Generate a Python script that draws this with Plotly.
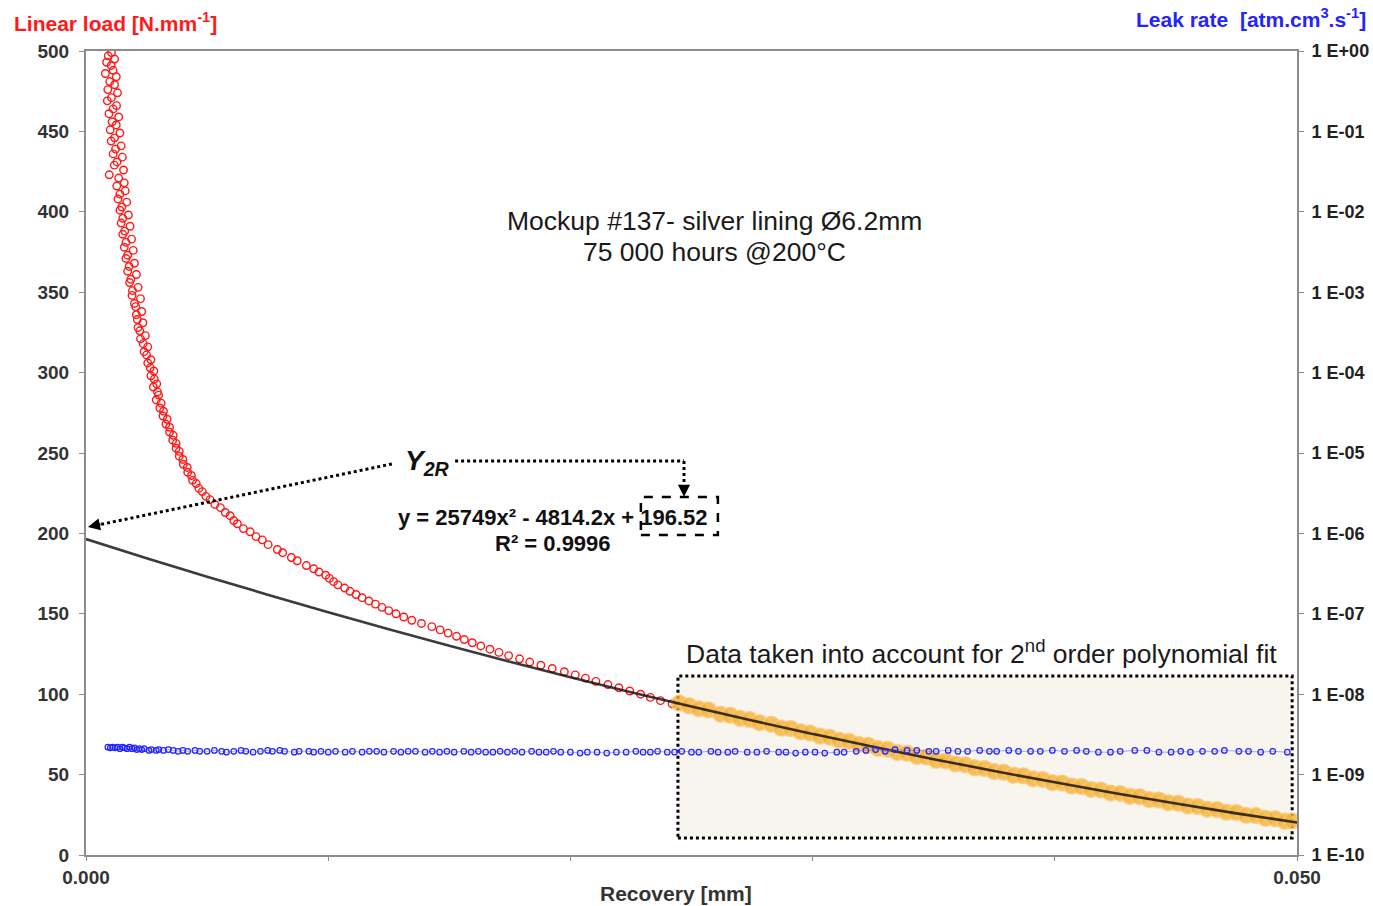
import plotly.graph_objects as go

# red series: linear load vs recovery
load_recovery = [
    0.00105, 0.00092, 0.00118, 0.00085, 0.00104, 0.00112, 0.00080, 0.00125, 0.00098, 0.00118,
    0.00090, 0.00130, 0.00105, 0.00088, 0.00126, 0.00112, 0.00095, 0.00135, 0.00108, 0.00125,
    0.00100, 0.00140, 0.00118, 0.00104, 0.00145, 0.00122, 0.00112, 0.00150, 0.00128, 0.00117,
    0.00155, 0.00096, 0.00135, 0.00158, 0.00127, 0.00162, 0.00140, 0.00132, 0.00168, 0.00148,
    0.00140, 0.00175, 0.00152, 0.00145, 0.00182, 0.00160, 0.00152, 0.00188, 0.00165, 0.00158,
    0.00195, 0.00172, 0.00165, 0.00200, 0.00178, 0.00172, 0.00208, 0.00185, 0.00180, 0.00215,
    0.00192, 0.00190, 0.00225, 0.00200, 0.00205, 0.00230, 0.00208, 0.00212, 0.00235, 0.00215,
    0.00222, 0.00245, 0.00225, 0.00236, 0.00255, 0.00240, 0.00250, 0.00268, 0.00255, 0.00265,
    0.00280, 0.00268, 0.00282, 0.00292, 0.00278, 0.00295, 0.00300, 0.00290, 0.00310, 0.00305,
    0.00320, 0.00318, 0.00335, 0.00330, 0.00345, 0.00345, 0.00360, 0.00358, 0.00372, 0.00372,
    0.00385, 0.00385, 0.00400, 0.00402, 0.00418, 0.00420, 0.00435, 0.00440, 0.00455, 0.00466,
    0.00480, 0.00495, 0.00512, 0.00532, 0.00555, 0.00575, 0.00595, 0.00610, 0.00625, 0.00650,
    0.00678, 0.00702, 0.00728, 0.00752, 0.00790, 0.00812, 0.00848, 0.00872, 0.00910, 0.00940,
    0.00962, 0.00990, 0.01005, 0.01022, 0.01040, 0.01068, 0.01090, 0.01115, 0.01140, 0.01168,
    0.01195, 0.01222, 0.01250, 0.01280, 0.01312, 0.01345, 0.01385, 0.01428, 0.01462, 0.01495,
    0.01530, 0.01562, 0.01595, 0.01630, 0.01668, 0.01705, 0.01745, 0.01790, 0.01832, 0.01878,
    0.01925, 0.01975, 0.02020, 0.02062, 0.02105, 0.02155, 0.02200, 0.02245, 0.02290, 0.02330,
    0.02372, 0.02420,
]
load_values = [
    499, 497, 495, 493, 491, 488, 486, 484, 481, 479,
    476, 474, 471, 469, 466, 464, 461, 459, 456, 454,
    451, 449, 446, 444, 441, 439, 436, 434, 431, 429,
    426, 423, 421, 418, 416, 413, 411, 408, 406, 403,
    401, 398, 396, 393, 391, 388, 386, 383, 381, 378,
    376, 373, 371, 368, 366, 363, 361, 358, 356, 353,
    351, 348, 346, 343, 341, 338, 336, 333, 331, 328,
    326, 323, 321, 318, 316, 313, 311, 308, 306, 303,
    301, 298, 296, 293, 291, 288, 286, 283, 281, 278,
    276, 273, 271, 268, 266, 263, 261, 258, 256, 253,
    251, 248, 246, 243, 241, 238, 236, 233, 231, 228,
    226, 223, 221, 218, 216, 213, 211, 208, 206, 203,
    201, 198, 196, 193, 190, 188, 185, 183, 180, 178,
    176, 174, 172, 170, 168, 166, 164, 162, 160, 158,
    156, 154, 152, 150, 148, 146, 144, 142, 140, 138,
    136, 134, 132, 130, 128, 126, 124, 122, 120, 118,
    116, 114, 112, 110, 108, 106, 104, 102, 100, 98,
    96, 94,
]

# orange series: points used for the 2nd order fit
fit_recovery = [
    0.0245, 0.0249, 0.0253, 0.0257, 0.0262, 0.0266, 0.0270, 0.0274, 0.0278, 0.0283,
    0.0287, 0.0291, 0.0295, 0.0299, 0.0303, 0.0307, 0.0311, 0.0315, 0.0319, 0.0323,
    0.0327, 0.0331, 0.0335, 0.0339, 0.0343, 0.0347, 0.0351, 0.0355, 0.0359, 0.0363,
    0.0367, 0.0371, 0.0375, 0.0379, 0.0383, 0.0387, 0.0391, 0.0395, 0.0399, 0.0403,
    0.0407, 0.0411, 0.0415, 0.0419, 0.0423, 0.0427, 0.0431, 0.0435, 0.0439, 0.0443,
    0.0447, 0.0451, 0.0455, 0.0459, 0.0463, 0.0467, 0.0471, 0.0475, 0.0479, 0.0483,
    0.0487, 0.0491, 0.0495, 0.0498,
]
fit_load = [
    94.5, 92.8, 91.0, 90.2, 87.6, 86.9, 85.0, 84.2, 82.3, 81.3,
    79.0, 78.6, 76.6, 75.8, 74.0, 73.3, 71.4, 70.8, 68.8, 68.2,
    66.3, 65.8, 63.8, 63.3, 61.3, 60.9, 58.9, 58.5, 56.6, 56.1,
    54.2, 53.8, 51.9, 51.4, 49.6, 49.3, 47.4, 47.0, 45.1, 44.8,
    42.9, 42.6, 40.8, 40.5, 38.6, 38.3, 36.5, 36.3, 34.5, 34.2,
    32.5, 32.2, 30.5, 30.2, 28.5, 28.3, 26.6, 26.4, 24.7, 24.5,
    22.8, 22.6, 21.0, 21.2,
]

# black trendline
trend_recovery = [0.0, 0.0025, 0.005, 0.0075, 0.01, 0.0125, 0.015, 0.0175, 0.02, 0.0225, 0.025,
                  0.0275, 0.03, 0.0325, 0.035, 0.0375, 0.04, 0.0425, 0.045, 0.0475, 0.05]
trend_load = [196.5, 184.6, 173.1, 161.9, 151.0, 140.4, 130.1, 120.2, 110.5, 101.2, 92.3,
              83.6, 75.3, 67.3, 59.6, 52.2, 45.2, 38.4, 32.0, 25.9, 20.2]

# blue series: leak rate (right, log axis)
leak_recovery = [
    0.0009, 0.0010, 0.0011, 0.0012, 0.0013, 0.0014, 0.0015, 0.0016, 0.0017, 0.0018,
    0.0019, 0.0020, 0.0021, 0.0022, 0.0023, 0.0024, 0.0026, 0.0027, 0.0029, 0.0030,
    0.0032, 0.0034, 0.0036, 0.0038, 0.0040, 0.0042, 0.0045, 0.0047, 0.0050, 0.0053,
    0.0056, 0.0058, 0.0061, 0.0064, 0.0066, 0.0069, 0.0072, 0.0075, 0.0077, 0.0080,
    0.0082, 0.0086, 0.0088, 0.0092, 0.0094, 0.0097, 0.0100, 0.0103, 0.0107, 0.0110,
    0.0114, 0.0117, 0.0120, 0.0123, 0.0127, 0.0130, 0.0133, 0.0136, 0.0140, 0.0143,
    0.0146, 0.0149, 0.0152, 0.0156, 0.0159, 0.0162, 0.0165, 0.0168, 0.0171, 0.0174,
    0.0177, 0.0180, 0.0184, 0.0187, 0.0190, 0.0193, 0.0196, 0.0200, 0.0204, 0.0207,
    0.0211, 0.0215, 0.0219, 0.0223, 0.0227, 0.0230, 0.0233, 0.0236, 0.0240, 0.0243,
    0.0246, 0.0250, 0.0253, 0.0258, 0.0261, 0.0265, 0.0268, 0.0273, 0.0277, 0.0281,
    0.0286, 0.0289, 0.0293, 0.0297, 0.0301, 0.0305, 0.0310, 0.0313, 0.0318, 0.0322,
    0.0326, 0.0330, 0.0334, 0.0339, 0.0343, 0.0348, 0.0351, 0.0356, 0.0360, 0.0364,
    0.0369, 0.0373, 0.0376, 0.0381, 0.0385, 0.0390, 0.0394, 0.0399, 0.0404, 0.0409,
    0.0413, 0.0418, 0.0423, 0.0427, 0.0433, 0.0438, 0.0443, 0.0448, 0.0452, 0.0456,
    0.0461, 0.0466, 0.0470, 0.0476, 0.0480, 0.0485, 0.0490, 0.0496,
]
leak_rate = [
    2.2e-9, 2.15e-9, 2.2e-9, 2.15e-9, 2.2e-9, 2.1e-9, 2.2e-9, 2.15e-9, 2.1e-9, 2.2e-9,
    2.1e-9, 2.15e-9, 2.05e-9, 2.1e-9, 2.05e-9, 2.1e-9, 2.0e-9, 2.05e-9, 2.0e-9, 2.05e-9,
    2.0e-9, 2.05e-9, 2.0e-9, 1.95e-9, 2.0e-9, 1.95e-9, 2.0e-9, 1.95e-9, 1.95e-9, 2.0e-9,
    1.95e-9, 1.9e-9, 1.95e-9, 2.0e-9, 1.95e-9, 1.9e-9, 1.95e-9, 2.0e-9, 1.95e-9, 2.0e-9,
    1.95e-9, 1.9e-9, 1.95e-9, 1.95e-9, 1.9e-9, 1.95e-9, 1.9e-9, 1.95e-9, 1.9e-9, 1.95e-9,
    1.9e-9, 1.95e-9, 1.95e-9, 1.9e-9, 1.95e-9, 1.9e-9, 1.95e-9, 1.95e-9, 1.9e-9, 1.95e-9,
    1.9e-9, 1.95e-9, 1.9e-9, 1.95e-9, 1.9e-9, 1.95e-9, 1.9e-9, 1.9e-9, 1.95e-9, 1.9e-9,
    1.95e-9, 1.9e-9, 1.95e-9, 1.9e-9, 1.9e-9, 1.95e-9, 1.9e-9, 1.9e-9, 1.85e-9, 1.9e-9,
    1.9e-9, 1.85e-9, 1.9e-9, 1.9e-9, 1.95e-9, 1.9e-9, 1.9e-9, 1.95e-9, 1.9e-9, 1.9e-9,
    1.95e-9, 1.9e-9, 1.9e-9, 1.95e-9, 1.9e-9, 1.9e-9, 1.95e-9, 1.9e-9, 1.9e-9, 1.95e-9,
    1.9e-9, 1.9e-9, 1.85e-9, 1.9e-9, 1.9e-9, 1.85e-9, 1.9e-9, 1.9e-9, 1.95e-9, 2.0e-9,
    2.05e-9, 1.95e-9, 2.05e-9, 2.0e-9, 2.0e-9, 1.95e-9, 1.95e-9, 2.0e-9, 1.95e-9, 1.95e-9,
    2.0e-9, 1.95e-9, 1.95e-9, 2.0e-9, 1.95e-9, 1.95e-9, 1.95e-9, 2.0e-9, 1.95e-9, 2.0e-9,
    1.95e-9, 1.9e-9, 1.9e-9, 1.95e-9, 2.0e-9, 2.0e-9, 1.9e-9, 1.9e-9, 1.95e-9, 1.9e-9,
    1.95e-9, 1.95e-9, 2.0e-9, 1.95e-9, 1.95e-9, 1.9e-9, 1.95e-9, 1.9e-9,
]

load_ticks = [0, 50, 100, 150, 200, 250, 300, 350, 400, 450, 500]
leak_ticks = [1e-10, 1e-9, 1e-8, 1e-7, 1e-6, 1e-5, 1e-4, 1e-3, 1e-2, 1e-1, 1e0]
leak_tick_text = ["1 E-10", "1 E-09", "1 E-08", "1 E-07", "1 E-06", "1 E-05",
                  "1 E-04", "1 E-03", "1 E-02", "1 E-01", "1 E+00"]
recovery_ticks = [0.0, 0.01, 0.02, 0.03, 0.04, 0.05]
recovery_tick_text = ["0.000", "", "", "", "", "0.050"]

FONT = "Liberation Sans, Arial, sans-serif"
AXIS_GRAY = "#8c8c8c"


def bold(labels):
    return ["<b>" + str(t) + "</b>" if t != "" else "" for t in labels]


fig = go.Figure()

fig.add_trace(go.Scatter(
    x=load_recovery, y=load_values, mode="markers",
    marker=dict(symbol="circle-open", size=7.5, color="#ff1a1a", line=dict(width=1.4)),
))
fig.add_trace(go.Scatter(
    x=fit_recovery, y=fit_load, mode="markers",
    marker=dict(size=16, color="rgba(245,178,55,0.8)",
                line=dict(width=1.5, color="rgba(250,205,130,0.7)")),
))
fig.add_trace(go.Scatter(
    x=trend_recovery, y=trend_load, mode="lines",
    line=dict(color="rgba(10,10,10,0.8)", width=2.6, shape="spline"),
))
fig.add_trace(go.Scatter(
    x=leak_recovery, y=leak_rate, mode="lines+markers", yaxis="y2",
    line=dict(color="rgba(110,110,255,0.6)", width=1),
    marker=dict(symbol="circle-open", size=5.5, color="#2424ff", line=dict(width=1.2)),
))

# box for the data taken into account in the fit
fig.add_shape(type="rect", x0=0.02444, x1=0.0498, y0=10.6, y1=111.3,
              line=dict(color="black", width=3, dash="dot"),
              fillcolor="#f7f5ee", layer="below")
# dashed frame around the constant term
fig.add_shape(type="rect", x0=0.02291, x1=0.02609, y0=199.0, y1=222.6,
              line=dict(color="black", width=2.5, dash="dash"))
# dotted leaders from Y2R
fig.add_shape(type="line", x0=0.01263, y0=243.2, x1=0.00058, y1=205.5,
              line=dict(color="black", width=3, dash="dot"))
fig.add_shape(type="line", x0=0.01524, y0=245.0, x1=0.02469, y1=245.0,
              line=dict(color="black", width=3, dash="dot"))
fig.add_shape(type="line", x0=0.02469, y0=245.0, x1=0.02469, y1=229.0,
              line=dict(color="black", width=3, dash="dot"))

annotations = [
    dict(x=0.00008, y=204.0, ax=14, ay=-3, text="", showarrow=True,
         arrowhead=2, arrowsize=1.1, arrowwidth=2.2, arrowcolor="black"),
    dict(x=0.02469, y=222.8, ax=0, ay=-12, text="", showarrow=True,
         arrowhead=2, arrowsize=1.1, arrowwidth=2.2, arrowcolor="black"),
    dict(x=0.01410, y=243.8, text="<b><i>Y<sub>2R</sub></i></b>", showarrow=False,
         font=dict(size=28, color="#111111", family=FONT)),
    dict(x=0.01928, y=209.6, text="<b>y = 25749x² - 4814.2x + 196.52</b>", showarrow=False,
         font=dict(size=22, color="#111111", family=FONT)),
    dict(x=0.01928, y=194.0, text="<b>R² = 0.9996</b>", showarrow=False,
         font=dict(size=22, color="#111111", family=FONT)),
    dict(x=0.02597, y=394.0, text="Mockup #137- silver lining Ø6.2mm",
         showarrow=False, font=dict(size=26.5, color="#1a1a1a", family=FONT)),
    dict(x=0.02597, y=375.0, text="75 000 hours @200°C",
         showarrow=False, font=dict(size=26.5, color="#1a1a1a", family=FONT)),
    dict(x=0.03699, y=126.2, text="Data taken into account for 2<sup>nd</sup> order polynomial fit",
         showarrow=False, font=dict(size=26.5, color="#1a1a1a", family=FONT)),
    dict(xref="paper", yref="paper", x=-0.0611, y=1.036, xanchor="left", yanchor="middle",
         text="<b>Linear load [N.mm<sup>-1</sup>]</b>", showarrow=False,
         font=dict(size=21, color="#ff1a1a", family=FONT)),
    dict(xref="paper", yref="paper", x=1.0587, y=1.041, xanchor="right", yanchor="middle",
         text="<b>Leak rate  [atm.cm<sup>3</sup>.s<sup>-1</sup>]</b>", showarrow=False,
         font=dict(size=21, color="#2424ff", family=FONT)),
    dict(xref="paper", yref="paper", x=0.487, y=-0.0473, xanchor="center", yanchor="middle",
         text="<b>Recovery [mm]</b>", showarrow=False,
         font=dict(size=21, color="#333333", family=FONT)),
]

fig.update_layout(
    width=1373, height=906,
    margin=dict(l=86, r=76, t=51, b=51),
    paper_bgcolor="white", plot_bgcolor="white",
    showlegend=False,
    font=dict(family=FONT, color="#333333"),
    annotations=annotations,
    xaxis=dict(
        range=[0, 0.05], tickvals=recovery_ticks, ticktext=bold(recovery_tick_text),
        ticks="outside", ticklen=4, tickcolor=AXIS_GRAY, automargin=False,
        showline=True, linecolor=AXIS_GRAY, linewidth=2, mirror=True,
        showgrid=False, zeroline=False,
        tickfont=dict(size=19, color="#333333", family=FONT),
    ),
    yaxis=dict(
        range=[0, 500], tickvals=load_ticks, ticktext=bold(load_ticks),
        ticks="outside", ticklen=5, tickcolor=AXIS_GRAY, automargin=False,
        ticklabelstandoff=6,
        showline=True, linecolor=AXIS_GRAY, linewidth=2,
        showgrid=False, zeroline=False,
        tickfont=dict(size=19, color="#333333", family=FONT),
    ),
    yaxis2=dict(
        type="log", range=[-10, 0], overlaying="y", side="right",
        tickvals=leak_ticks, ticktext=bold(leak_tick_text),
        ticks="outside", ticklen=5, tickcolor=AXIS_GRAY, automargin=False,
        ticklabelstandoff=4,
        showline=True, linecolor=AXIS_GRAY, linewidth=2,
        showgrid=False, zeroline=False,
        tickfont=dict(size=18, color="#222222", family=FONT),
    ),
)

# the page body has a default 8px margin; drop it so the figure fills the window
fig.write_html("out.html", config={"displayModeBar": False},
               post_script="document.body.style.margin='0';")
